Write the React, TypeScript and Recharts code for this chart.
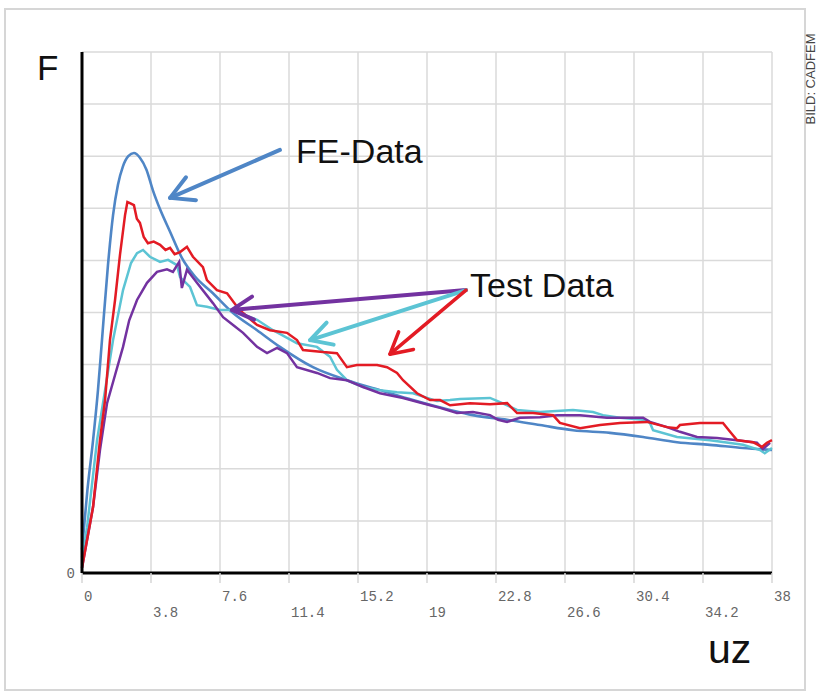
import React from "react";
import {
  LineChart,
  Line,
  XAxis,
  YAxis,
  CartesianGrid,
  ReferenceLine,
  ReferenceDot,
} from "recharts";

// axis ticks
const xTicks = [0, 3.8, 7.6, 11.4, 15.2, 19, 22.8, 26.6, 30.4, 34.2, 38];
const yTicks = [0, 1, 2, 3, 4, 5, 6, 7, 8, 9, 10];

// FE simulation curve (uz, F)
const feData = [
  [0, 0.45], [0.3, 1.6], [0.61, 2.55], [0.88, 3.51], [1.1, 4.47], [1.43, 5.91],
  [1.71, 6.87], [1.98, 7.45], [2.25, 7.8], [2.55, 8.0], [2.86, 8.06], [3.19, 7.97],
  [3.55, 7.74], [3.9, 7.35], [4.3, 6.98], [4.85, 6.55], [5.5, 6.05], [6.2, 5.7],
  [7.21, 5.37], [8.32, 4.99], [9.64, 4.66], [10.9, 4.34], [12.72, 3.95],
  [14.59, 3.7], [16.41, 3.51], [18.23, 3.32], [20.27, 3.13], [21.53, 3.03],
  [23.41, 2.94], [25.22, 2.84], [27.04, 2.74], [29.08, 2.69], [30.9, 2.61],
  [32.77, 2.51], [34.58, 2.46], [36.4, 2.4], [38, 2.36],
];

// test curves
const redData = [
  [0, 0.1], [0.61, 1.27], [0.99, 2.55], [1.27, 3.32], [1.54, 4.47], [1.82, 5.24],
  [2.09, 6.1], [2.37, 6.87], [2.5, 7.12], [2.64, 7.1], [2.86, 7.06], [3.02, 6.8],
  [3.19, 6.72], [3.4, 6.45], [3.63, 6.33], [3.95, 6.36], [4.3, 6.3], [4.6, 6.2],
  [4.85, 6.24], [5.1, 6.12], [5.4, 6.16], [5.78, 6.26], [6.11, 6.07],
  [6.66, 5.87], [6.88, 5.62], [7.43, 5.43], [7.99, 5.37], [8.54, 5.11],
  [8.87, 4.99], [9.64, 4.76], [10.35, 4.66], [11.29, 4.61], [11.84, 4.47],
  [12.17, 4.28], [13.27, 4.24], [14.04, 4.22], [14.59, 3.95], [15.14, 3.99],
  [16.25, 3.99], [16.8, 3.95], [17.35, 3.84], [17.68, 3.7], [18.45, 3.45],
  [19.17, 3.32], [19.72, 3.32], [20.27, 3.22], [21.37, 3.26], [22.47, 3.24],
  [23.41, 3.26], [23.96, 3.07], [24.84, 3.07], [25.94, 3.03], [26.32, 2.88],
  [27.43, 2.78], [28.53, 2.84], [29.63, 2.88], [31.12, 2.9], [32.22, 2.8],
  [32.77, 2.78], [32.93, 2.84], [34.03, 2.88], [35.3, 2.88], [35.69, 2.71],
  [36.07, 2.55], [36.95, 2.51], [37.45, 2.42], [37.72, 2.5], [38, 2.55],
];

const cyanData = [
  [0, 0.3], [0.28, 0.88], [0.83, 2.55], [1.27, 3.51], [1.71, 4.47], [2.26, 5.43],
  [2.7, 5.95], [3.03, 6.14], [3.36, 6.2], [3.74, 6.07], [4.3, 5.97], [4.74, 6.01],
  [5.23, 5.91], [5.4, 5.68], [5.95, 5.49], [6.33, 5.14], [6.88, 5.11],
  [7.6, 5.05], [8.15, 5.05], [9.64, 4.86], [10.52, 4.66], [11.84, 4.41],
  [12.94, 4.34], [13.66, 4.15], [14.04, 3.9], [14.59, 3.7], [15.48, 3.57],
  [16.41, 3.51], [17.35, 3.47], [18.23, 3.45], [19.55, 3.3], [20.27, 3.32],
  [20.82, 3.34], [22.47, 3.36], [23.02, 3.28], [23.96, 3.13], [25.22, 3.09],
  [27.04, 3.13], [28.14, 3.09], [28.69, 3.03], [29.63, 2.98], [30.9, 2.94],
  [31.28, 2.88], [31.45, 2.74], [32.77, 2.61], [34.58, 2.55], [36.4, 2.46],
  [37.34, 2.36], [37.6, 2.3], [38, 2.4],
];

const purpleData = [
  [0, 0.1], [0.61, 1.27], [0.99, 2.36], [1.38, 3.26], [1.82, 3.8], [2.26, 4.34],
  [2.6, 4.85], [3.03, 5.24], [3.58, 5.57], [4.13, 5.78], [4.68, 5.83],
  [5.01, 5.78], [5.35, 5.97], [5.5, 5.47], [5.78, 5.82], [6.33, 5.57],
  [7.21, 5.18], [7.77, 4.91], [8.32, 4.76], [8.87, 4.61], [9.64, 4.34],
  [10.19, 4.22], [10.74, 4.32], [11.29, 4.22], [11.84, 3.95], [12.94, 3.84],
  [13.66, 3.74], [14.59, 3.7], [15.48, 3.57], [16.41, 3.45], [17.68, 3.36],
  [19.17, 3.22], [19.72, 3.17], [20.65, 3.07], [21.53, 3.09], [22.47, 3.03],
  [22.91, 2.94], [23.41, 2.9], [24.12, 2.98], [25.22, 2.99], [26.16, 3.03],
  [27.43, 3.03], [28.91, 2.98], [30.9, 2.98], [31.28, 2.9], [32.22, 2.8],
  [32.93, 2.71], [33.87, 2.61], [34.97, 2.59], [36.07, 2.55], [37.17, 2.5],
  [37.5, 2.38], [37.89, 2.5],
];

const toPts = (a: number[][]) => a.map(([x, y]) => ({ x, y }));

const BLUE = "#4f86c6";
const RED = "#e31b24";
const CYAN = "#5cc4d4";
const PURPLE = "#7332a0";
const monoFont = "'Liberation Mono', 'DejaVu Sans Mono', monospace";
const sansFont = "'Liberation Sans', Arial, sans-serif";

// line with a V-shaped head at the second point
const arrowShape = (color: string, width: number, head: number) => (p: any) => {
  const { x1, y1, x2, y2 } = p;
  const ang = Math.atan2(y1 - y2, x1 - x2);
  const spread = 0.5;
  const ax = x2 + head * Math.cos(ang + spread);
  const ay = y2 + head * Math.sin(ang + spread);
  const bx = x2 + head * Math.cos(ang - spread);
  const by = y2 + head * Math.sin(ang - spread);
  return (
    <g>
      <line x1={x1} y1={y1} x2={x2} y2={y2} stroke={color} strokeWidth={width} strokeLinecap="round" />
      <polyline
        points={`${ax},${ay} ${x2},${y2} ${bx},${by}`}
        fill="none"
        stroke={color}
        strokeWidth={width}
        strokeLinecap="round"
        strokeLinejoin="round"
      />
    </g>
  );
};

const textShape = (label: string) => (p: any) => (
  <text x={p.cx} y={p.cy} fontFamily={sansFont} fontSize={34} fill="#111" textAnchor="start">
    {label}
  </text>
);

const XTick = (props: any) => {
  const { x, y, payload, index } = props;
  const dy = index % 2 === 0 ? 16 : 32;
  return (
    <text x={x + 2} y={y + dy} textAnchor="start" fontFamily={monoFont} fontSize={14} fill="#666">
      {payload.value}
    </text>
  );
};

export default function App() {
  return (
    <div style={{ position: "absolute", left: 0, top: 0, width: 820, height: 693, background: "#fff" }}>
      <svg width={820} height={693} style={{ position: "absolute", left: 0, top: 0 }}>
        <rect x={5} y={9} width={800} height={681} fill="none" stroke="#d6d6d6" strokeWidth={2} />
        <text x={37} y={80} fontFamily={sansFont} fontSize={35} fill="#111">F</text>
        <text x={708} y={663} fontFamily={sansFont} fontSize={41} fill="#111">uz</text>
        <text
          x={812}
          y={79}
          transform="rotate(-90 812 79)"
          textAnchor="middle"
          dominantBaseline="middle"
          fontFamily={sansFont}
          fontSize={13}
          fill="#444"
        >
          BILD: CADFEM
        </text>
      </svg>
      <LineChart
        width={820}
        height={693}
        margin={{ top: 52, right: 48, bottom: 80, left: 0 }}
        style={{ position: "absolute", left: 0, top: 0 }}
      >
        <CartesianGrid stroke="#dadada" strokeWidth={1.5} />
        <XAxis
          type="number"
          dataKey="x"
          domain={[0, 38]}
          ticks={xTicks}
          interval={0}
          height={40}
          tickSize={10}
          tickMargin={2}
          axisLine={{ stroke: "#000", strokeWidth: 3 }}
          tickLine={{ stroke: "#d6d6d6", strokeWidth: 1.5 }}
          tick={<XTick />}
        />
        <YAxis
          type="number"
          dataKey="y"
          domain={[0, 10]}
          ticks={yTicks}
          interval={0}
          width={82}
          tickSize={0}
          tickMargin={7}
          tickLine={false}
          axisLine={{ stroke: "#000", strokeWidth: 3 }}
          tickFormatter={(v: number) => (v === 0 ? "0" : "")}
          tick={{ fontFamily: monoFont, fontSize: 14, fill: "#666" }}
        />
        <Line data={toPts(feData)} dataKey="y" type="monotone" stroke={BLUE} strokeWidth={2.6} dot={false} isAnimationActive={false} />
        <Line data={toPts(cyanData)} dataKey="y" type="linear" stroke={CYAN} strokeWidth={2.5} dot={false} isAnimationActive={false} />
        <Line data={toPts(purpleData)} dataKey="y" type="linear" stroke={PURPLE} strokeWidth={2.5} dot={false} isAnimationActive={false} />
        <Line data={toPts(redData)} dataKey="y" type="linear" stroke={RED} strokeWidth={2.5} dot={false} isAnimationActive={false} />

        <ReferenceLine segment={[{ x: 10.9, y: 8.12 }, { x: 4.85, y: 7.2 }]} shape={arrowShape(BLUE, 4, 26)} />
        <ReferenceLine segment={[{ x: 21.15, y: 5.43 }, { x: 8.26, y: 5.05 }]} shape={arrowShape(PURPLE, 4, 24)} />
        <ReferenceLine segment={[{ x: 21.15, y: 5.43 }, { x: 12.56, y: 4.47 }]} shape={arrowShape(CYAN, 4, 24)} />
        <ReferenceLine segment={[{ x: 21.15, y: 5.43 }, { x: 16.96, y: 4.2 }]} shape={arrowShape(RED, 3.5, 24)} />

        <ReferenceDot x={11.79} y={7.87} r={0} shape={textShape("FE-Data")} />
        <ReferenceDot x={21.37} y={5.3} r={0} shape={textShape("Test Data")} />
      </LineChart>
    </div>
  );
}
